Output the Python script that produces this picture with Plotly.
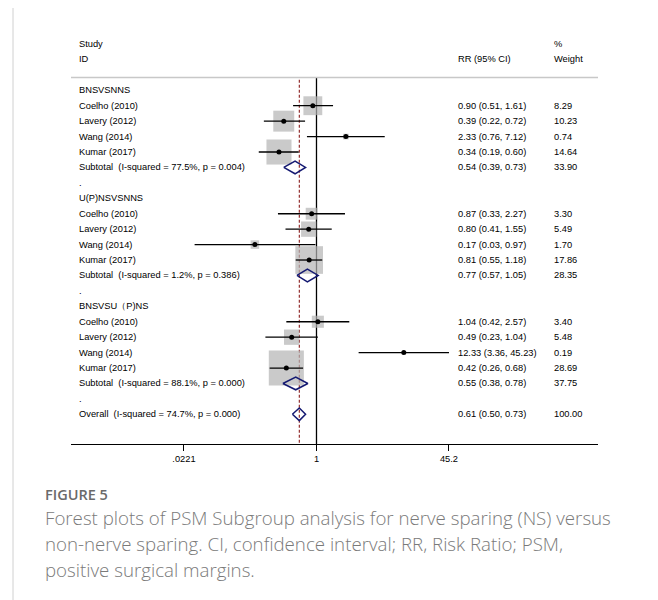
import plotly.graph_objects as go

# ---------------- data ----------------
studies = ["Coelho (2010)", "Lavery (2012)", "Wang (2014)", "Kumar (2017)"]
group_names = ["BNSVSNNS", "U(P)NSVSNNS", "BNSVSU（P)NS"]

rr_g1 = [0.90, 0.39, 2.33, 0.34]
lo_g1 = [0.51, 0.22, 0.76, 0.19]
hi_g1 = [1.61, 0.72, 7.12, 0.60]
wt_g1 = [8.29, 10.23, 0.74, 14.64]

rr_g2 = [0.87, 0.80, 0.17, 0.81]
lo_g2 = [0.33, 0.41, 0.03, 0.55]
hi_g2 = [2.27, 1.55, 0.97, 1.18]
wt_g2 = [3.30, 5.49, 1.70, 17.86]

rr_g3 = [1.04, 0.49, 12.33, 0.42]
lo_g3 = [0.42, 0.23, 3.36, 0.26]
hi_g3 = [2.57, 1.04, 45.23, 0.68]
wt_g3 = [3.40, 5.48, 0.19, 28.69]

sub_rr = [0.54, 0.77, 0.55]
sub_lo = [0.39, 0.57, 0.38]
sub_hi = [0.73, 1.05, 0.78]
sub_wt = [33.90, 28.35, 37.75]
sub_i2 = ["77.5%", "1.2%", "88.1%"]
sub_p = ["0.004", "0.386", "0.000"]

overall_rr, overall_lo, overall_hi, overall_wt = 0.61, 0.50, 0.73, 100.00
overall_i2, overall_p = "74.7%", "0.000"

tick_vals = [0.0221, 1, 45.2]
tick_text = [".0221", "1", "45.2"]

caption_title = "FIGURE 5"
caption_lines = [
    "Forest plots of PSM Subgroup analysis for nerve sparing (NS) versus",
    "non-nerve sparing. CI, confidence interval; RR, Risk Ratio; PSM,",
    "positive surgical margins.",
]

# ---------------- layout helpers ----------------
OFF = 8  # page body margin
W, H = 658 - OFF, 600 - OFF
SX0, SX1, SY0, SY1 = 71, 598, 30, 444
L, R, T = SX0 - OFF, W - (SX1 - OFF), SY0 - OFF
B = H - (SY1 - OFF)
PW, PH = W - L - R, H - T - B
ROW0, ROWH = 44.0, 15.43
y_bottom = (SY1 - ROW0) / ROWH
y_top = (SY0 - ROW0) / ROWH


def pxx(px):
    return (px - SX0) / PW


def pxy(py):
    return (SY1 - py) / PH


FONT = "Liberation Sans, Arial, sans-serif"
FS = 9.3
SQ_COLOR = "#b3b3b3"
DIA_COLOR = "#151a72"

groups = [
    (rr_g1, lo_g1, hi_g1, wt_g1),
    (rr_g2, lo_g2, hi_g2, wt_g2),
    (rr_g3, lo_g3, hi_g3, wt_g3),
]

labels = []
st_x, st_lo, st_hi, st_y, st_w = [], [], [], [], []
dia = []
row = 3
for gi, (rr, lo, hi, wt) in enumerate(groups):
    labels.append((row, group_names[gi], "", ""))
    row += 1
    for si, name in enumerate(studies):
        labels.append((row, name, f"{rr[si]:.2f} ({lo[si]:.2f}, {hi[si]:.2f})", f"{wt[si]:.2f}"))
        st_x.append(rr[si]); st_lo.append(lo[si]); st_hi.append(hi[si])
        st_y.append(row); st_w.append(wt[si])
        row += 1
    labels.append((row, f"Subtotal  (I-squared = {sub_i2[gi]}, p = {sub_p[gi]})",
                   f"{sub_rr[gi]:.2f} ({sub_lo[gi]:.2f}, {sub_hi[gi]:.2f})", f"{sub_wt[gi]:.2f}"))
    dia.append((row, sub_rr[gi], sub_lo[gi], sub_hi[gi]))
    row += 1
    labels.append((row, ".", "", ""))
    row += 1
labels.append((row, f"Overall  (I-squared = {overall_i2}, p = {overall_p})",
               f"{overall_rr:.2f} ({overall_lo:.2f}, {overall_hi:.2f})", f"{overall_wt:.2f}"))
dia.append((row, overall_rr, overall_lo, overall_hi))

header_row = 2.17

fig = go.Figure()

fig.add_trace(go.Scatter(x=[1, 1], y=[header_row, y_bottom], mode="lines",
                         line=dict(color="black", width=1.3), hoverinfo="skip", showlegend=False))
fig.add_trace(go.Scatter(x=[overall_rr, overall_rr], y=[header_row + 0.15, y_bottom], mode="lines",
                         line=dict(color="#8b1e1e", width=1.1, dash="3px,2px"),
                         hoverinfo="skip", showlegend=False))

fig.add_trace(go.Scatter(x=st_x, y=st_y, mode="markers",
                         marker=dict(symbol="square", color=SQ_COLOR,
                                     size=[6.55 * w ** 0.5 for w in st_w], line=dict(width=0)),
                         hoverinfo="skip", showlegend=False))

cx, cy = [], []
for a, b, yy in zip(st_lo, st_hi, st_y):
    cx += [a, b, None]
    cy += [yy, yy, None]
fig.add_trace(go.Scatter(x=cx, y=cy, mode="lines", line=dict(color="black", width=1.3),
                         hoverinfo="skip", showlegend=False))

fig.add_trace(go.Scatter(x=st_x, y=st_y, mode="markers",
                         marker=dict(symbol="circle", color="black", size=5),
                         hoverinfo="skip", showlegend=False))

hh = 0.41
for (ry, est, a, b) in dia:
    fig.add_trace(go.Scatter(x=[a, est, b, est, a], y=[ry, ry - hh, ry, ry + hh, ry],
                             mode="lines", line=dict(color=DIA_COLOR, width=1.5),
                             hoverinfo="skip", showlegend=False))

ann = []


def txt(x, y, s, **kw):
    d = dict(x=x, y=y, xref="paper", yref="y", text=s, showarrow=False,
             xanchor="left", yanchor="middle", font=dict(family=FONT, size=FS, color="black"))
    d.update(kw)
    ann.append(d)


X_LEFT, X_RR, X_WT = pxx(77.3), pxx(456), pxx(551.7)
txt(X_LEFT, 0, "Study")
txt(X_LEFT, 1, "ID")
txt(X_RR, 1, "RR (95% CI)")
txt(X_WT, 0, "%")
txt(X_WT, 1, "Weight")
for (ry, s1, s2, s3) in labels:
    txt(X_LEFT, ry, s1)
    if s2:
        txt(X_RR, ry, s2)
    if s3:
        txt(X_WT, ry, s3)

ann.append(dict(x=pxx(43), y=pxy(494), xref="paper", yref="paper", text=caption_title,
                showarrow=False, xanchor="left", yanchor="middle",
                font=dict(family="Open Sans, sans-serif", size=14.5, color="#6a6a6a", weight=600)))
for i, line in enumerate(caption_lines):
    ann.append(dict(x=pxx(43), y=pxy(518 + 25.5 * i), xref="paper", yref="paper", text=line,
                    showarrow=False, xanchor="left", yanchor="middle",
                    font=dict(family="Open Sans, sans-serif", size=18.7, color="#7a7a7a", weight=300)))

shapes = [
    dict(type="line", xref="paper", yref="y", x0=0, x1=1, y0=header_row, y1=header_row,
         line=dict(color="#c8c8c8", width=1.5)),
    dict(type="rect", xref="paper", yref="paper", x0=pxx(13), x1=pxx(653), y0=pxy(640), y1=pxy(4),
         line=dict(color="#d0d0d0", width=1), fillcolor="rgba(0,0,0,0)", layer="below"),
]

fig.update_layout(
    width=W, height=H,
    margin=dict(l=L, r=R, t=T, b=B),
    paper_bgcolor="white", plot_bgcolor="white",
    annotations=ann, shapes=shapes, showlegend=False,
    xaxis=dict(type="log", range=[-3.067, 3.517], tickvals=tick_vals, ticktext=tick_text,
               ticks="outside", ticklen=6, tickwidth=1.2, tickcolor="black",
               showline=True, linecolor="black", linewidth=1.3, showgrid=False, zeroline=False,
               tickfont=dict(family=FONT, size=FS, color="black"), fixedrange=True),
    yaxis=dict(range=[y_bottom, y_top], visible=False, showgrid=False, zeroline=False,
               fixedrange=True),
)

fig.write_html("out.html")
